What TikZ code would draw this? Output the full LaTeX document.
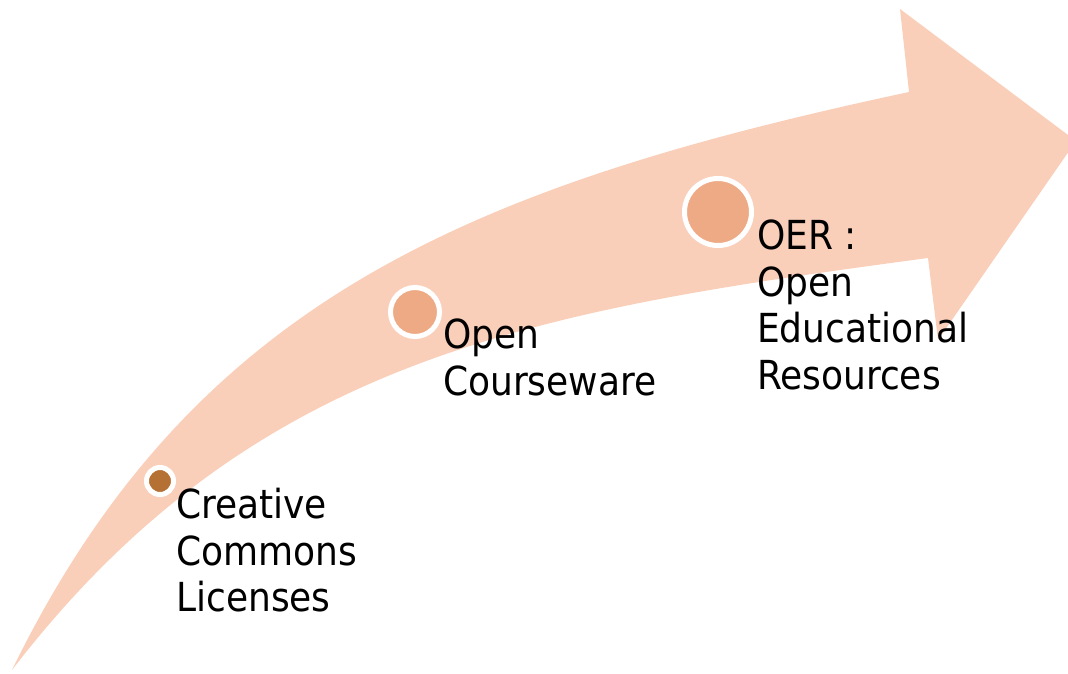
\documentclass[tikz,border=0pt]{standalone}
\usepackage{fontspec}
\setmainfont{DejaVu Sans Condensed}
\usetikzlibrary{positioning}

\definecolor{arrowpeach}{RGB}{250,207,186}
\definecolor{dotlight}{RGB}{238,170,132}
\definecolor{dotdark}{RGB}{181,112,52}

\begin{document}
\begin{tikzpicture}[
    x=1pt, y=-1pt,
    dot/.style={circle, draw=white, line width=5pt, inner sep=0pt},
    steptext/.style={anchor=north west, inner sep=0pt, align=left,
      font=\fontsize{40}{46.5}\selectfont}
  ]

  \useasboundingbox (0,0) rectangle (1068,674);
  \clip (0,0) rectangle (1068,674);

  \coordinate (tail) at (12,670);
  \coordinate (topbase) at (909,92);
  \coordinate (topwing) at (900,9);
  \coordinate (tip) at (1076,141);
  \coordinate (lowwing) at (938,340);
  \coordinate (lowbase) at (928,258);

  \fill[arrowpeach] (tail) .. controls (192,301) and (469,186) .. (topbase)
    -- (topwing) -- (tip) -- (lowwing) -- (lowbase)
    .. controls (540,310) and (255,354) .. (tail) -- cycle;

  \node[dot, fill=dotdark, minimum size=27pt] (cc) at (160,481) {};
  \node[dot, fill=dotlight, minimum size=49pt] (ocw) at (415,312) {};
  \node[dot, fill=dotlight, minimum size=67pt] (oer) at (718,212) {};

  \node[steptext] (cctext) at (176,488) {Creative\\Commons\\Licenses};
  \node[steptext] (ocwtext) at (443,319) {Open\\Courseware};
  \node[steptext] (oertext) at (757,220) {OER :\\Open\\Educational\\Resources};

\end{tikzpicture}
\end{document}
